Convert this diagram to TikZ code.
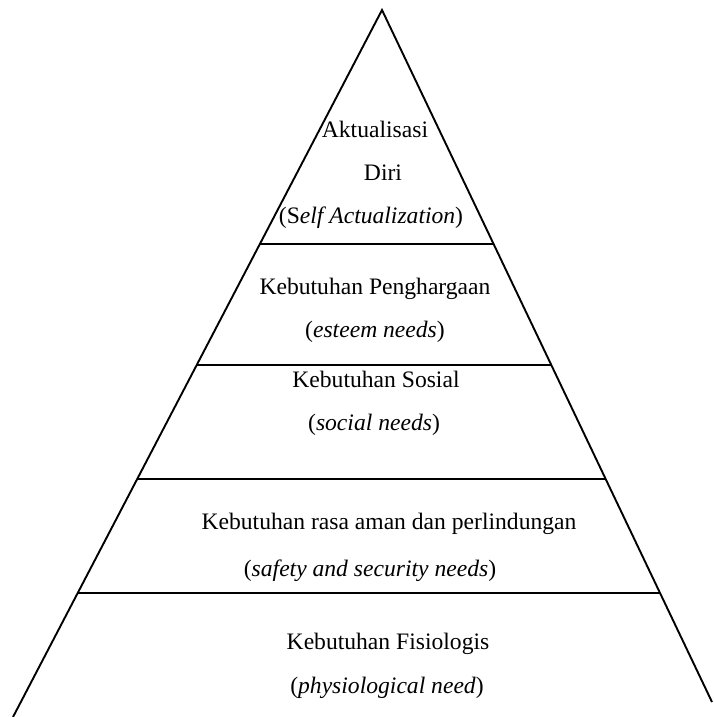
\documentclass[tikz,border=0pt]{standalone}
\usepackage{fontspec}
\setmainfont{Liberation Serif}
\usetikzlibrary{calc,positioning}

\begin{document}
\begin{tikzpicture}[x=1pt, y=-1pt,
      tier/.style={line width=1.9pt},
      lab/.style={anchor=base, inner sep=0pt, font=\fontsize{23.6}{28}\selectfont}]
    \useasboundingbox (0,0) rectangle (713,717);
    \coordinate (apex)  at (382,10);
    \coordinate (lfoot) at (13,717);
    \coordinate (rfoot) at (712,702);
    \draw[tier] (lfoot) -- (apex) -- (rfoot);
    \foreach \yy in {244,365,479,593} {
      \draw[tier] ($(apex)!{(\yy-10)/707}!(lfoot)$) -- ($(apex)!{(\yy-10)/692}!(rfoot)$);
    }
    % labels of the five levels
    \node[lab] (aktual1) at (375,137) {Aktualisasi};
    \node[lab] (aktual2) at (383,180) {Diri};
    \node[lab] (aktual3) at (371,223) {(S\emph{elf Actualization})};
    \node[lab] (harga1) at (375,294) {Kebutuhan Penghargaan};
    \node[lab] (harga2) at (375,337) {(\emph{esteem needs})};
    \node[lab] (sosial1) at (376,387) {Kebutuhan Sosial};
    \node[lab] (sosial2) at (374,430) {(\emph{social needs})};
    \node[lab] (aman1) at (389,529) {Kebutuhan rasa aman dan perlindungan};
    \node[lab] (aman2) at (370,576) {(\emph{safety and security needs})};
    \node[lab] (fisio1) at (388,649) {Kebutuhan Fisiologis};
    \node[lab] (fisio2) at (387,693) {(\emph{physiological need})};
  \end{tikzpicture}
\end{document}
